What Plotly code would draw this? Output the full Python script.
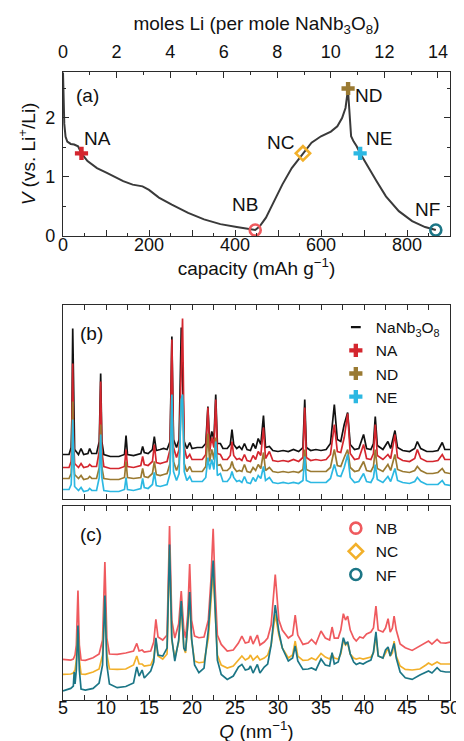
import plotly.graph_objects as go

# panel (a): voltage profile
capacity = [0, 1, 3, 6, 10, 18, 26, 35, 43, 57, 79, 102, 140, 162, 185, 200, 223, 253, 291, 328,
            366, 404, 430, 447, 457, 472, 487, 510, 532, 558, 578, 600, 623, 638, 649, 657, 662,
            663, 664, 667, 670, 676, 683, 691, 706, 729, 751, 781, 812, 842, 867]
voltage = [2.77, 2.3, 1.9, 1.68, 1.6, 1.56, 1.55, 1.52, 1.4, 1.27, 1.15, 1.07, 0.93, 0.87, 0.84,
           0.78, 0.65, 0.53, 0.39, 0.28, 0.2, 0.15, 0.12, 0.1, 0.16, 0.31, 0.53, 0.87, 1.15, 1.4,
           1.58, 1.69, 1.77, 1.86, 2.0, 2.17, 2.45, 2.5, 2.34, 1.89, 1.69, 1.6, 1.52, 1.4, 1.21,
           0.93, 0.67, 0.42, 0.25, 0.15, 0.1]

point_names = ["NA", "NB", "NC", "ND", "NE", "NF"]
point_cap = [43, 447, 558, 663, 691, 867]
point_v = [1.4, 0.1, 1.4, 2.5, 1.4, 0.1]

# panel (b): NaNb3O8, NA, ND, NE
q_b = [5.0, 5.7, 5.95, 6.03, 6.13, 6.23, 6.35, 6.8, 7.1, 7.4, 7.9, 8.1, 8.35, 8.9, 9.22, 9.38, 9.52,
       9.75, 10.5, 11.5, 12.15, 12.33, 12.5, 13.2, 14.05, 14.26, 14.45, 14.9, 15.4, 15.62, 15.85,
       16.3, 16.7, 17.1, 17.45, 17.66, 17.85, 18.2, 18.5, 18.75, 18.9, 19.1, 19.4, 19.74, 20.0,
       20.6, 21.2, 21.6, 21.85, 22.05, 22.3, 22.55, 22.76, 22.95, 23.3, 23.6, 24.1, 24.45, 24.65,
       24.85, 25.2, 25.5, 25.8, 26.1, 26.4, 26.8, 27.1, 27.4, 27.7, 28.0, 28.31, 28.55, 29.0, 29.4,
       30.0, 30.6, 31.2, 31.8, 32.4, 32.9, 33.11, 33.3, 33.8, 34.4, 35.0, 35.6, 36.1, 36.55, 36.9,
       37.3, 37.7, 38.1, 38.4, 38.9, 39.4, 39.95, 40.3, 40.8, 41.1, 41.31, 41.55, 42.2, 42.78,
       43.1, 43.6, 43.9, 44.5, 45.3, 45.9, 46.2, 46.6, 47.3, 48.0, 48.6, 49.1, 49.4, 50.0]
nanb3o8 = [45, 45, 52, 80, 171, 80, 50, 45, 51, 45, 46, 51, 46, 46, 58, 126, 58, 45, 43, 43, 45, 64,
           45, 44, 46, 53, 47, 46, 50, 63, 49, 50, 51, 50, 58, 163, 60, 52, 60, 172, 120, 58, 51,
           57, 51, 52, 52, 56, 93, 56, 68, 60, 105, 56, 56, 51, 51, 55, 70, 55, 51, 53, 50, 56, 50,
           49, 56, 51, 61, 55, 84, 52, 53, 49, 48, 49, 48, 50, 48, 52, 100, 52, 49, 50, 49, 50, 56,
           95, 60, 58, 75, 87, 55, 50, 51, 65, 51, 50, 56, 83, 54, 50, 58, 51, 69, 52, 49, 48, 51,
           58, 51, 48, 48, 49, 57, 50, 50]
na = [32, 32, 38, 60, 136, 60, 36, 32, 36, 32, 33, 35, 33, 33, 48, 118, 48, 33, 31, 31, 33, 50, 33,
      32, 34, 43, 35, 34, 38, 55, 37, 36, 37, 38, 50, 160, 52, 42, 50, 150, 181, 52, 41, 45, 40,
      40, 40, 45, 92, 48, 62, 52, 100, 46, 45, 40, 40, 44, 58, 44, 40, 41, 39, 45, 39, 38, 44, 40,
      48, 44, 72, 41, 48, 39, 38, 39, 38, 40, 38, 42, 92, 42, 39, 40, 39, 40, 45, 75, 48, 47, 62,
      86, 46, 40, 41, 55, 41, 40, 46, 75, 44, 40, 45, 41, 65, 42, 39, 38, 41, 50, 41, 38, 38, 39,
      45, 40, 40]
nd = [21, 21, 26, 42, 98, 42, 25, 21, 24, 20, 21, 23, 21, 21, 32, 75, 32, 21, 20, 20, 22, 38, 22,
      21, 22, 31, 23, 22, 26, 38, 25, 24, 25, 26, 36, 104, 38, 29, 36, 100, 104, 36, 28, 33, 28,
      28, 28, 33, 66, 38, 50, 40, 62, 34, 35, 29, 29, 32, 38, 32, 28, 29, 28, 35, 28, 27, 32, 29,
      35, 31, 47, 29, 32, 28, 27, 28, 27, 28, 27, 30, 50, 30, 28, 28, 28, 28, 32, 50, 34, 33, 42,
      50, 32, 28, 29, 38, 29, 28, 33, 50, 31, 28, 35, 29, 45, 30, 28, 27, 29, 33, 29, 26, 26, 27,
      31, 27, 26]
ne = [10, 10, 15, 32, 80, 32, 13, 9, 12, 8, 9, 11, 9, 9, 22, 65, 22, 9, 8, 8, 10, 22, 10, 9, 11,
      21, 12, 11, 15, 27, 14, 13, 14, 15, 26, 105, 28, 19, 26, 100, 105, 28, 19, 23, 18, 18, 18,
      22, 42, 30, 40, 30, 58, 24, 26, 18, 18, 22, 28, 22, 18, 19, 17, 23, 17, 16, 22, 18, 24, 21,
      33, 19, 22, 17, 16, 17, 16, 17, 16, 19, 43, 19, 17, 17, 17, 17, 21, 35, 24, 23, 32, 45, 22,
      17, 18, 26, 18, 17, 22, 35, 20, 17, 23, 18, 31, 19, 17, 16, 18, 22, 18, 15, 15, 15, 19, 15,
      14]

# panel (c): NB, NC, NF
q_c = [5.0, 5.9, 6.2, 6.3, 6.4, 6.55, 6.74, 6.9, 7.1, 7.6, 8.5, 9.2, 9.6, 9.87, 10.1, 10.4, 11.3,
       12.3, 13.2, 13.58, 13.85, 14.2, 14.45, 15.2, 15.55, 15.8, 16.05, 16.6, 17.1, 17.39, 17.65,
       18.0, 18.45, 18.75, 19.05, 19.25, 19.5, 19.73, 19.95, 20.3, 20.8, 21.4, 21.9, 22.2, 22.46,
       22.7, 22.95, 23.4, 24.1, 24.8, 25.4, 25.8, 26.2, 26.6, 26.8, 27.1, 27.6, 27.9, 28.4, 28.8,
       29.2, 29.68, 30.1, 30.5, 31.2, 31.7, 32.0, 32.3, 32.9, 33.5, 33.9, 34.4, 35.0, 35.5, 36.0,
       36.29, 36.55, 37.0, 37.3, 37.6, 37.85, 38.1, 38.4, 38.8, 39.1, 39.5, 39.9, 40.3, 40.8, 41.1,
       41.39, 41.65, 42.2, 42.5, 42.8, 43.05, 43.3, 43.5, 43.75, 44.2, 44.8, 45.6, 46.5, 47.2, 47.5,
       47.9, 48.5, 48.9, 49.5, 50.0]
nb = [40.6, 40, 41, 44, 45, 55, 109.6, 55, 40, 39.6, 42.3, 46, 60, 138, 62, 46, 45.6, 47, 49, 56.6,
      49, 50, 48, 49, 58, 80.6, 63, 60, 65, 174, 80, 62, 76, 109, 70, 62, 85, 136, 80, 64, 62.3, 63,
      80, 120, 171.3, 110, 65, 55.6, 49, 50, 57, 64, 57, 58, 64, 56, 65, 55, 58, 62, 75, 125.6, 80,
      70, 62, 65, 85, 65, 55.6, 57, 60.6, 56, 69, 62, 60, 73, 62, 62, 70, 86.3, 80, 84, 70, 62, 59,
      63, 62, 66, 68, 72, 94, 70, 68, 72, 81.3, 68, 72, 84, 70, 56, 52.3, 49.6, 54, 57, 59, 56,
      60.6, 57.3, 57, 58]
nc = [25.6, 26, 27, 29, 30, 40, 72, 40, 26, 25.6, 28, 31, 45, 100, 46, 31, 30.6, 31, 35, 44, 36,
      36, 34, 35, 42, 60, 44, 41, 46, 150, 60, 42, 58, 95, 52, 47, 72, 100, 60, 39, 37.3, 38, 62,
      105, 130, 88, 45, 35, 32, 34, 40, 44, 40, 42, 45, 40, 44, 40, 42, 45, 55, 85.6, 65, 52, 42,
      45, 59, 44, 39.6, 40, 42, 40, 46.6, 43, 41, 45.6, 42, 41, 46, 60, 55, 57, 46, 42, 41, 42,
      41, 42, 43, 47, 65, 44, 42, 47, 52, 44, 47, 59, 44, 34, 30.6, 30, 31, 35, 37, 35, 38, 36,
      36, 36]
nf = [9, 11.6, 14, 28, 16, 30, 74.6, 30, 11, 10, 11.6, 17, 35, 104.6, 35, 16, 12.3, 13.5, 17, 33,
      24, 30, 22, 29, 38, 62.3, 45, 44, 52, 155.6, 62, 39, 60, 99, 52, 49, 75, 108, 62, 35, 27.3,
      32, 70, 110, 139.6, 90, 40, 25.6, 20.6, 24, 33, 35.6, 30, 31, 34, 27, 35.6, 27, 33, 36, 55,
      95, 68, 52, 39, 42, 54, 39, 30.6, 31, 32, 30, 41, 35, 34, 47.3, 36, 38, 48, 62.3, 56, 58.3,
      46, 38, 35.6, 37, 36, 38, 40, 48, 68.3, 44, 42, 50, 53, 44, 50, 56.6, 42, 28, 22.3, 20.6,
      25, 28, 29, 27, 32.3, 29, 28, 28]

FONT = "Liberation Sans, Arial, sans-serif"
INK = "#2b2b2b"
C_NA, C_NB, C_NC = "#d4262e", "#ef5a5e", "#f2b02a"
C_ND, C_NE, C_NF = "#9a7a32", "#2cb8e2", "#1c7686"
C_BLK = "#111111"

fig = go.Figure()

# (a) curve and state markers
fig.add_trace(go.Scatter(x=capacity, y=voltage, mode="lines", line=dict(color="#3a3a3a", width=2),
                         showlegend=False, xaxis="x", yaxis="y"))
# empty trace so the top (moles) axis gets drawn
fig.add_trace(go.Scatter(x=[None], y=[None], mode="lines", showlegend=False, hoverinfo="skip",
                         xaxis="x4", yaxis="y"))

marker_style = {
    "NA": dict(symbol="cross", color=C_NA, legend="legend", rank=2),
    "ND": dict(symbol="cross", color=C_ND, legend="legend", rank=3),
    "NE": dict(symbol="cross", color=C_NE, legend="legend", rank=4),
    "NB": dict(symbol="circle-open", color=C_NB, legend="legend2", rank=1),
    "NC": dict(symbol="diamond-open", color=C_NC, legend="legend2", rank=2),
    "NF": dict(symbol="circle-open", color=C_NF, legend="legend2", rank=3),
}
for name, cx, vy in zip(point_names, point_cap, point_v):
    s = marker_style[name]
    open_sym = "open" in s["symbol"]
    fig.add_trace(go.Scatter(
        x=[cx], y=[vy], mode="markers", name=name, legend=s["legend"], legendrank=s["rank"],
        marker=dict(symbol=s["symbol"], size=11, color=s["color"],
                    line=dict(color=s["color"], width=2.6 if open_sym else 0)),
        xaxis="x", yaxis="y"))

# legend swatch for pristine pattern
fig.add_trace(go.Scatter(x=[None], y=[None], mode="markers", name="NaNb<sub>3</sub>O<sub>8</sub>",
                         legend="legend", legendrank=1,
                         marker=dict(symbol="line-ew", size=7, line=dict(color=C_BLK, width=2.2)),
                         xaxis="x2", yaxis="y2"))

# (b) patterns, black underneath
for ys, col in [(nanb3o8, C_BLK), (na, C_NA), (nd, C_ND), (ne, C_NE)]:
    fig.add_trace(go.Scatter(x=q_b, y=ys, mode="lines", line=dict(color=col, width=1.7),
                             showlegend=False, xaxis="x2", yaxis="y2"))

# (c) patterns
for ys, col in [(nb, C_NB), (nc, C_NC), (nf, C_NF)]:
    fig.add_trace(go.Scatter(x=q_c, y=ys, mode="lines", line=dict(color=col, width=1.7),
                             showlegend=False, xaxis="x3", yaxis="y3"))

label_pos = {"NA": (80, 1.66), "NB": (423, 0.53), "NC": (506, 1.58),
             "ND": (711, 2.38), "NE": (736, 1.65), "NF": (847, 0.45)}
annotations = [dict(x=x, y=y, text=n, xref="x", yref="y", showarrow=False,
                    font=dict(size=19, color="#111")) for n, (x, y) in label_pos.items()]
annotations += [
    dict(x=58, y=2.38, text="(a)", xref="x", yref="y", showarrow=False, font=dict(size=19, color="#111")),
    dict(x=8.3, y=166, text="(b)", xref="x2", yref="y2", showarrow=False, font=dict(size=19, color="#111")),
    dict(x=8.25, y=166, text="(c)", xref="x3", yref="y3", showarrow=False, font=dict(size=19, color="#111")),
]

frame = dict(showline=True, linecolor=INK, linewidth=1.2, showgrid=False, zeroline=False)

fig.update_layout(
    width=464, height=741,
    margin=dict(l=55, r=12, t=64, b=49),
    paper_bgcolor="white", plot_bgcolor="white",
    font=dict(family=FONT, size=18, color="#111"),
    annotations=annotations,
    xaxis=dict(**frame, anchor="y", domain=[0, 1], range=[0, 900],
               tickvals=[0, 100, 200, 300, 400, 500, 600, 700, 800, 900],
               ticktext=["0", "", "200", "", "400", "", "600", "", "800", ""],
               ticks="inside", ticklen=6, tickcolor=INK, ticklabelstandoff=-8,
               minor=dict(dtick=50, tick0=0, ticks="inside", ticklen=3, tickcolor=INK),
               title=dict(text="capacity (mAh g<sup>\u22121</sup>)", standoff=6, font=dict(size=19))),
    xaxis4=dict(**frame, overlaying="x", side="top", anchor="y", range=[0, 14.45],
                tickvals=[0, 2, 4, 6, 8, 10, 12, 14], ticks="inside", ticklen=6, tickcolor=INK,
                ticklabelstandoff=6,
                minor=dict(dtick=1, tick0=0, ticks="inside", ticklen=3, tickcolor=INK),
                title=dict(text="moles Li (per mole NaNb<sub>3</sub>O<sub>8</sub>)", standoff=6,
                           font=dict(size=19))),
    yaxis=dict(**frame, domain=[0.739, 1], range=[0, 2.78], mirror="ticks",
               tickvals=[0, 1, 2], ticks="inside", ticklen=6, tickcolor=INK, ticklabelstandoff=3,
               minor=dict(dtick=0.5, tick0=0, ticks="inside", ticklen=3, tickcolor=INK),
               title=dict(text="<i>V</i> (vs. Li<sup>+</sup>/Li)", standoff=4, font=dict(size=19))),
    xaxis2=dict(**frame, anchor="y2", range=[5, 50], mirror="ticks", showticklabels=False,
                tick0=5, dtick=2.5, ticks="inside", ticklen=5, tickcolor=INK, matches="x3"),
    yaxis2=dict(**frame, domain=[0.3193, 0.6287], range=[0, 194.4], mirror=True,
                showticklabels=False, ticks=""),
    xaxis3=dict(**frame, anchor="y3", range=[5, 50], mirror="ticks",
                tickvals=[5, 10, 15, 20, 25, 30, 35, 40, 45, 50],
                ticks="inside", ticklen=5, tickcolor=INK, ticklabelstandoff=-9,
                minor=dict(dtick=2.5, tick0=5, ticks="inside", ticklen=5, tickcolor=INK),
                title=dict(text="<i>Q</i> (nm<sup>\u22121</sup>)", standoff=3, font=dict(size=19))),
    yaxis3=dict(**frame, domain=[0, 0.3097], range=[0, 194.6], mirror=True,
                showticklabels=False, ticks=""),
    legend=dict(x=0.705, y=0.62, xanchor="left", yanchor="top", bgcolor="rgba(0,0,0,0)",
                font=dict(size=15.5), itemwidth=30, tracegroupgap=0),
    legend2=dict(x=0.705, y=0.30, xanchor="left", yanchor="top", bgcolor="rgba(0,0,0,0)",
                 font=dict(size=15.5), itemwidth=30, tracegroupgap=0),
)

fig.write_html("out.html")
